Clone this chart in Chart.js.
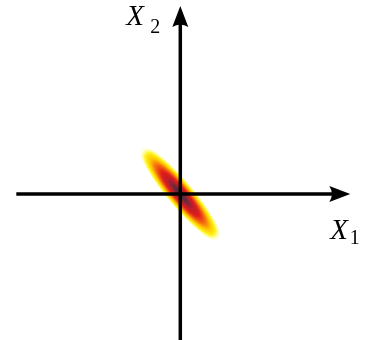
<!DOCTYPE html>
<html>
<head>
<meta charset="utf-8">
<script src="https://cdn.jsdelivr.net/npm/chart.js@4/dist/chart.umd.min.js"></script>
<style>
  body { margin: 0; background: #fff; }
  canvas { display: block; }
</style>
</head>
<body>
<canvas id="density" width="370" height="340"></canvas>
<script>
// bivariate normal, described along its own principal axes
var mean = [0, 0];
var sigma = [0.21, 0.044];      // spread along major / minor axis
var tiltDeg = [-50];            // direction of the major axis
var cutoffSigmas = [3];         // painted out to this many standard deviations
var stripEnd = [0.51, 0.60];    // fade-out range along the major axis

// the two coordinate axes (data units)
var axisX = [-1.64, 1.70];
var axisY = [-1.47, 1.88];
var axisLabels = ['X', 'X'];
var axisSubs = ['1', '2'];

// colour ramp over Mahalanobis distance, 0 = peak, 1 = cutoff
var ramp = [
  [0.00, 70, 52, 62, 1],
  [0.12, 88, 44, 58, 1],
  [0.30, 185, 30, 45, 1],
  [0.45, 226, 30, 25, 1],
  [0.60, 246, 112, 14, 1],
  [0.72, 255, 200, 0, 1],
  [0.85, 255, 245, 30, 1],
  [0.94, 255, 255, 130, 0.6],
  [1.00, 255, 255, 255, 0]
];

function rampColor(t) {
  for (var i = 1; i < ramp.length; i++) {
    if (t <= ramp[i][0]) {
      var a = ramp[i - 1], b = ramp[i];
      var f = (t - a[0]) / (b[0] - a[0]);
      return [a[1] + f * (b[1] - a[1]), a[2] + f * (b[2] - a[2]),
              a[3] + f * (b[3] - a[3]), a[4] + f * (b[4] - a[4])];
    }
  }
  return null;
}

const densityPlugin = {
  id: 'densityPlugin',
  beforeDatasetsDraw(chart) {
    const xs = chart.scales.x, ys = chart.scales.y;
    const area = chart.chartArea;
    const w = Math.round(area.right - area.left), h = Math.round(area.bottom - area.top);
    const off = document.createElement('canvas');
    off.width = w; off.height = h;
    const octx = off.getContext('2d');
    const img = octx.createImageData(w, h);
    const th = tiltDeg[0] * Math.PI / 180;
    const c = Math.cos(th), s = Math.sin(th);
    for (var py = 0; py < h; py++) {
      var y = ys.getValueForPixel(area.top + py + 0.5) - mean[1];
      for (var px = 0; px < w; px++) {
        var x = xs.getValueForPixel(area.left + px + 0.5) - mean[0];
        var u = x * c + y * s;
        var q = -x * s + y * c;
        var au = Math.abs(u);
        if (au >= stripEnd[1]) continue;
        var d = Math.sqrt(u * u / (sigma[0] * sigma[0]) + q * q / (sigma[1] * sigma[1]));
        var col = rampColor(d / cutoffSigmas[0]);
        if (!col) continue;
        var fade = au <= stripEnd[0] ? 1 : 1 - (au - stripEnd[0]) / (stripEnd[1] - stripEnd[0]);
        var k = (py * w + px) * 4;
        img.data[k] = col[0];
        img.data[k + 1] = col[1];
        img.data[k + 2] = col[2];
        img.data[k + 3] = Math.round(col[3] * fade * 255);
      }
    }
    octx.putImageData(img, 0, 0);
    chart.ctx.drawImage(off, area.left, area.top);
  }
};

function arrowHead(ctx, tipX, tipY, dirX, dirY, len, half) {
  const nx = -dirY, ny = dirX;
  const bx = tipX - dirX * len, by = tipY - dirY * len;
  ctx.beginPath();
  ctx.moveTo(tipX, tipY);
  ctx.lineTo(bx + nx * half, by + ny * half);
  ctx.quadraticCurveTo(bx + dirX * len * 0.25, by + dirY * len * 0.25, bx - nx * half, by - ny * half);
  ctx.closePath();
  ctx.fill();
}

const axesPlugin = {
  id: 'axesPlugin',
  afterDatasetsDraw(chart) {
    const ctx = chart.ctx;
    const xs = chart.scales.x, ys = chart.scales.y;
    const x0 = xs.getPixelForValue(0), y0 = ys.getPixelForValue(0);
    const left = xs.getPixelForValue(axisX[0]), right = xs.getPixelForValue(axisX[1]);
    const bottom = ys.getPixelForValue(axisY[0]), top = ys.getPixelForValue(axisY[1]);
    const headLen = 21, headHalf = 8;
    ctx.save();
    ctx.strokeStyle = '#000';
    ctx.fillStyle = '#000';
    ctx.lineWidth = 3.5;
    ctx.beginPath();
    ctx.moveTo(left, y0);
    ctx.lineTo(right - headLen + 4, y0);
    ctx.moveTo(x0, bottom);
    ctx.lineTo(x0, top + headLen - 4);
    ctx.stroke();
    arrowHead(ctx, right, y0, 1, 0, headLen, headHalf);
    arrowHead(ctx, x0, top, 0, -1, headLen, headHalf);

    // axis names with subscripts
    ctx.textBaseline = 'alphabetic';
    ctx.textAlign = 'left';
    ctx.font = 'italic 29px "Liberation Serif"';
    ctx.fillText(axisLabels[0], right - 20, y0 + 45);
    ctx.fillText(axisLabels[1], x0 - 54, top + 19);
    ctx.font = '20px "Liberation Serif"';
    ctx.fillText(axisSubs[0], right - 0.5, y0 + 50);
    ctx.fillText(axisSubs[1], x0 - 30, top + 27);
    ctx.restore();
  }
};

new Chart(document.getElementById('density'), {
  type: 'scatter',
  data: {
    datasets: [{
      label: 'mean',
      data: [{ x: mean[0], y: mean[1] }],
      pointRadius: 0
    }]
  },
  options: {
    responsive: false,
    animation: false,
    events: [],
    layout: { padding: 0 },
    plugins: { legend: { display: false }, tooltip: { enabled: false } },
    scales: {
      x: { type: 'linear', min: -1.803, max: 1.897, display: false },
      y: { type: 'linear', min: -1.46, max: 1.94, display: false }
    }
  },
  plugins: [densityPlugin, axesPlugin]
});
</script>
</body>
</html>
